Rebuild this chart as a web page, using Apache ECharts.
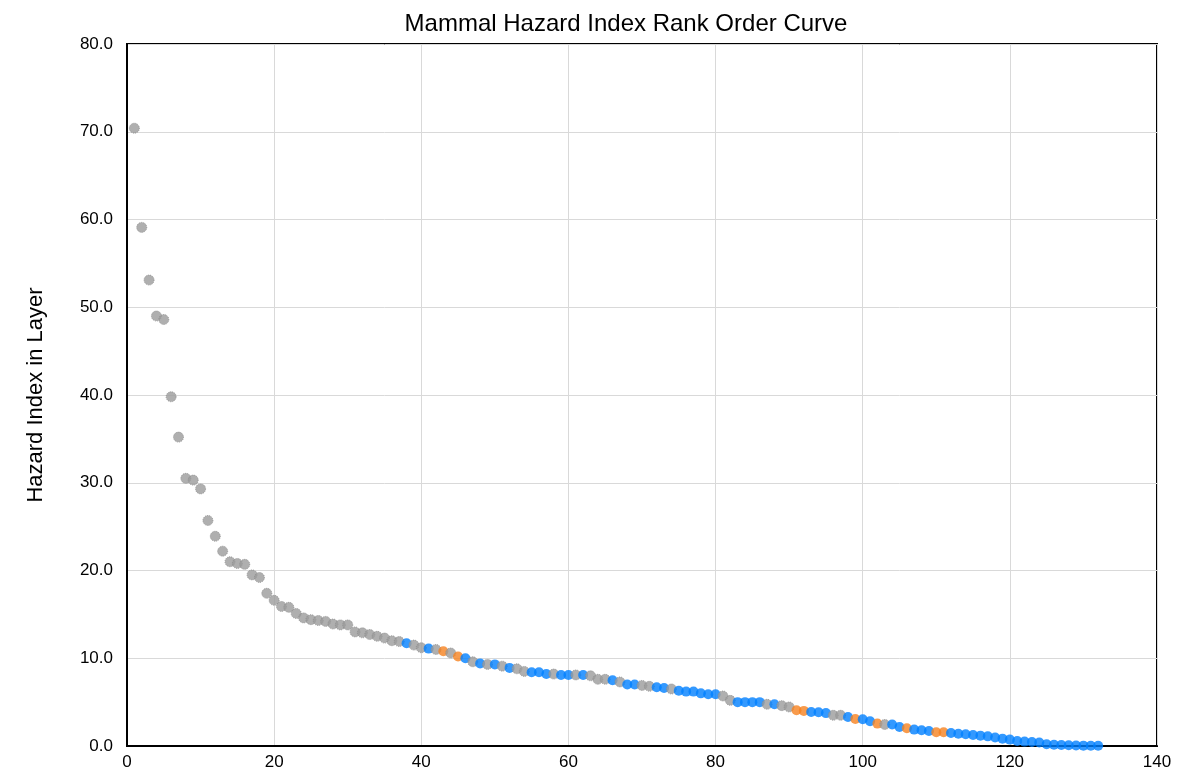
<!DOCTYPE html>
<html>
<head>
<meta charset="utf-8">
<script src="https://cdn.jsdelivr.net/npm/echarts@6/dist/echarts.min.js"></script>
<style>html,body{margin:0;padding:0;background:#fff}#c{width:1180px;height:775px}</style>
</head>
<body>
<div id="c"></div>
<script>
// Hazard index values by rank (rank = index + 1)
const hazardValues = [
  70.4, 59.1, 53.1, 49.0, 48.6, 39.8, 35.2, 30.5, 30.3, 29.3,
  25.7, 23.9, 22.2, 21.0, 20.8, 20.7, 19.5, 19.2, 17.4, 16.6,
  15.9, 15.8, 15.1, 14.6, 14.4, 14.3, 14.2, 13.9, 13.8, 13.8,
  13.0, 12.9, 12.7, 12.5, 12.3, 12.0, 11.9, 11.7, 11.5, 11.2,
  11.1, 11.0, 10.8, 10.6, 10.2, 10.0, 9.6, 9.4, 9.3, 9.3,
  9.1, 8.9, 8.8, 8.5, 8.4, 8.4, 8.2, 8.2, 8.1, 8.1,
  8.1, 8.1, 8.0, 7.6, 7.6, 7.5, 7.3, 7.0, 7.0, 6.9,
  6.8, 6.7, 6.6, 6.5, 6.3, 6.2, 6.2, 6.0, 5.9, 5.9,
  5.7, 5.2, 5.0, 5.0, 5.0, 5.0, 4.75, 4.75, 4.6, 4.45,
  4.07, 4.0, 3.88, 3.85, 3.75, 3.5, 3.5, 3.3, 3.07, 3.05,
  2.82, 2.55, 2.45, 2.44, 2.17, 2.02, 1.87, 1.8, 1.71, 1.56,
  1.56, 1.48, 1.4, 1.33, 1.26, 1.18, 1.1, 0.96, 0.84, 0.73,
  0.57, 0.5, 0.45, 0.39, 0.19, 0.15, 0.11, 0.08, 0.05, 0.04,
  0.03, 0.02
];
// Group per rank: G = gray, B = blue, O = orange
const hazardGroups = [
  'G','G','G','G','G','G','G','G','G','G',
  'G','G','G','G','G','G','G','G','G','G',
  'G','G','G','G','G','G','G','G','G','G',
  'G','G','G','G','G','G','G','B','G','G',
  'B','G','O','G','O','B','G','B','G','B',
  'G','B','G','G','B','B','B','G','B','B',
  'G','B','G','G','G','B','G','B','B','G',
  'G','B','B','G','B','B','B','B','B','B',
  'G','G','B','B','B','B','G','B','G','G',
  'O','O','B','B','B','G','G','B','O','B',
  'B','O','G','B','B','O','B','B','B','O',
  'O','B','B','B','B','B','B','B','B','B',
  'B','B','B','B','B','B','B','B','B','B',
  'B','B'
];
const xTicks = [0, 20, 40, 60, 80, 100, 120, 140];
const yTicks = [0, 10, 20, 30, 40, 50, 60, 70, 80];

const groupStyle = {
  G: {color: '#9b9b9b', borderColor: '#8a8a8a', borderWidth: 1, borderType: 'dotted'},
  B: {color: '#007fff', borderColor: '#007fff', borderWidth: 0},
  O: {color: '#f6821f', borderColor: '#f6821f', borderWidth: 0}
};

const points = hazardValues.map((v, i) => ({
  value: [i + 1, v],
  itemStyle: groupStyle[hazardGroups[i]]
}));

const chart = echarts.init(document.getElementById('c'), null, {renderer: 'canvas'});
const font = '"Liberation Sans", Arial, sans-serif';
chart.setOption({
  animation: false,
  backgroundColor: '#ffffff',
  title: {
    text: 'Mammal Hazard Index Rank Order Curve',
    left: 621, top: 7, textAlign: 'center',
    textStyle: {fontFamily: font, fontSize: 24, fontWeight: 'normal', color: '#000'}
  },
  grid: {left: 127, right: 23, top: 44, bottom: 29, show: true, borderColor: '#000', borderWidth: 2, backgroundColor: 'transparent'},
  xAxis: {
    type: 'value', min: xTicks[0], max: xTicks[xTicks.length - 1], interval: 20,
    axisLine: {show: true, lineStyle: {color: '#000', width: 2}},
    axisTick: {show: false},
    axisLabel: {fontFamily: font, fontSize: 17, color: '#000', margin: 8},
    splitLine: {show: true, lineStyle: {color: '#d9d9d9', width: 1}}
  },
  yAxis: {
    type: 'value', min: yTicks[0], max: yTicks[yTicks.length - 1], interval: 10,
    name: 'Hazard Index in Layer', nameLocation: 'middle', nameGap: 80, nameRotate: 90,
    nameTextStyle: {fontFamily: font, fontSize: 22, color: '#000'},
    axisLine: {show: true, lineStyle: {color: '#000', width: 2}},
    axisTick: {show: false},
    axisLabel: {fontFamily: font, fontSize: 17, color: '#000', margin: 14, formatter: v => v.toFixed(1)},
    splitLine: {show: true, lineStyle: {color: '#d9d9d9', width: 1}}
  },
  series: [{
    type: 'scatter',
    symbol: 'circle',
    symbolSize: 10,
    data: points
  }]
});
</script>
</body>
</html>
